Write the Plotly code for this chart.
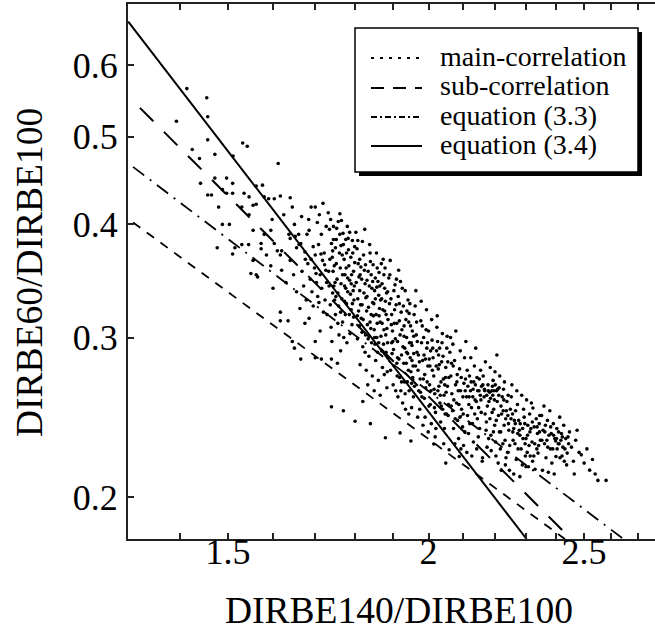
import plotly.graph_objects as go

# ---------------- data ----------------
scatter_points = [
    # x < 1.66
    (1.414,0.565),(1.455,0.552),(1.393,0.520),(1.457,0.526),(1.457,0.496),(1.425,0.484),(1.440,0.473),(1.472,0.478),
    (1.511,0.476),(1.532,0.492),(1.542,0.488),(1.612,0.467),(1.442,0.444),(1.472,0.450),(1.497,0.450),(1.510,0.444),
    (1.457,0.431),(1.465,0.431),(1.488,0.437),(1.497,0.433),(1.480,0.418),(1.488,0.400),(1.503,0.400),(1.510,0.433),
    (1.535,0.433),(1.546,0.429),(1.555,0.420),(1.562,0.441),(1.576,0.442),(1.580,0.429),(1.590,0.427),(1.603,0.427),
    (1.617,0.430),(1.640,0.428),(1.645,0.418),(1.530,0.418),(1.546,0.410),(1.562,0.421),(1.555,0.394),(1.477,0.377),
    (1.530,0.380),(1.545,0.380),(1.515,0.377),(1.510,0.371),(1.573,0.381),(1.573,0.376),(1.580,0.390),(1.595,0.394),
    (1.603,0.381),(1.610,0.374),(1.620,0.374),(1.617,0.370),(1.637,0.390),(1.640,0.386),(1.655,0.377),(1.555,0.365),
    (1.550,0.353),(1.565,0.350),(1.595,0.360),(1.585,0.370),(1.562,0.352),(1.617,0.313),(1.650,0.292),(1.645,0.297),
    (1.617,0.320),(1.635,0.313),(1.630,0.345),(1.600,0.340),(1.620,0.356),(1.648,0.352),(1.655,0.337),(1.640,0.365),
    (1.598,0.405),(1.625,0.410),(1.650,0.400),(1.652,0.388),
    # 1.66 - 1.73
    (1.660,0.390),(1.661,0.380),(1.665,0.381),(1.675,0.373),(1.676,0.366),(1.685,0.394),(1.690,0.418),(1.700,0.418),
    (1.710,0.410),(1.715,0.390),(1.680,0.390),(1.700,0.370),(1.690,0.366),(1.665,0.284),(1.715,0.284),(1.675,0.311),
    (1.700,0.297),(1.720,0.320),(1.700,0.285),(1.668,0.355),(1.672,0.342),(1.678,0.330),(1.682,0.362),(1.688,0.348),
    (1.692,0.337),(1.695,0.325),(1.698,0.358),(1.703,0.345),(1.706,0.333),(1.708,0.380),(1.712,0.352),(1.716,0.340),
    (1.718,0.365),(1.722,0.372),(1.724,0.330),(1.726,0.356),(1.728,0.345),(1.663,0.323),(1.685,0.315),(1.712,0.305),
    (1.727,0.398),(1.705,0.402),(1.684,0.405),(1.667,0.408),(1.719,0.422),(1.695,0.378),
    (1.702,0.353),(1.709,0.328),(1.714,0.371),(1.723,0.361),(1.729,0.318),
    # 1.73 - 1.80
    (1.732,0.412),(1.738,0.405),(1.745,0.385),(1.740,0.381),(1.750,0.377),(1.760,0.372),(1.761,0.390),(1.735,0.395),
    (1.742,0.368),(1.744,0.355),(1.746,0.342),(1.748,0.330),(1.750,0.318),(1.752,0.362),(1.754,0.348),(1.756,0.336),
    (1.758,0.325),(1.762,0.358),(1.764,0.344),(1.766,0.331),(1.768,0.312),(1.770,0.380),(1.772,0.366),(1.774,0.352),
    (1.776,0.340),(1.778,0.327),(1.780,0.398),(1.782,0.386),(1.784,0.360),(1.786,0.347),(1.788,0.335),(1.790,0.322),
    (1.792,0.310),(1.794,0.372),(1.796,0.355),(1.798,0.342),(1.734,0.342),(1.737,0.326),(1.739,0.308),(1.741,0.297),
    (1.743,0.374),(1.747,0.360),(1.753,0.396),(1.757,0.403),(1.761,0.411),(1.765,0.404),(1.769,0.391),(1.773,0.342),
    (1.777,0.358),(1.781,0.349),(1.785,0.318),(1.789,0.368),(1.793,0.384),(1.797,0.330),(1.771,0.300),(1.779,0.296),
    (1.759,0.302),(1.787,0.303),(1.740,0.2515),(1.770,0.249),(1.740,0.284),(1.763,0.290),(1.755,0.281),(1.733,0.355),
    (1.749,0.345),(1.767,0.370),(1.775,0.318),(1.783,0.375),(1.791,0.352),(1.795,0.338),(1.799,0.363),(1.751,0.333),
    (1.763,0.320),(1.745,0.398),(1.776,0.385),
    (1.736,0.366),(1.743,0.336),(1.752,0.385),(1.756,0.311),(1.764,0.379),(1.768,0.352),(1.773,0.329),(1.778,0.372),
    (1.786,0.392),(1.790,0.344),(1.796,0.316),(1.799,0.378),(1.781,0.337),(1.793,0.327),
    # 1.80 - 1.89
    (1.802,0.392),(1.805,0.376),(1.808,0.362),(1.810,0.350),(1.812,0.338),(1.814,0.326),(1.816,0.315),(1.818,0.304),
    (1.820,0.293),(1.822,0.370),(1.824,0.356),(1.826,0.344),(1.828,0.332),(1.830,0.321),(1.832,0.310),(1.834,0.299),
    (1.836,0.286),(1.838,0.380),(1.840,0.364),(1.842,0.352),(1.844,0.340),(1.846,0.328),(1.848,0.317),(1.850,0.306),
    (1.852,0.295),(1.854,0.283),(1.856,0.372),(1.858,0.358),(1.860,0.346),(1.862,0.334),(1.864,0.323),(1.866,0.312),
    (1.868,0.301),(1.870,0.290),(1.872,0.278),(1.874,0.366),(1.876,0.352),(1.878,0.340),(1.880,0.329),(1.882,0.318),
    (1.884,0.307),(1.886,0.296),(1.888,0.285),(1.803,0.345),(1.807,0.331),(1.811,0.309),(1.815,0.359),(1.819,0.383),
    (1.823,0.336),(1.827,0.302),(1.831,0.347),(1.835,0.324),(1.839,0.312),(1.843,0.296),(1.847,0.361),(1.851,0.338),
    (1.855,0.318),(1.859,0.289),(1.863,0.354),(1.867,0.330),(1.871,0.311),(1.875,0.295),(1.879,0.358),(1.883,0.336),
    (1.887,0.314),(1.813,0.280),(1.829,0.276),(1.845,0.272),(1.861,0.269),(1.877,0.273),(1.800,0.2425),(1.840,0.241),
    (1.820,0.255),(1.850,0.262),(1.833,0.266),(1.866,0.259),(1.884,0.264),(1.806,0.299),(1.817,0.348),(1.825,0.395),
    (1.837,0.342),(1.849,0.327),(1.857,0.300),(1.865,0.342),(1.873,0.322),(1.881,0.302),(1.885,0.275),(1.809,0.321),
    (1.821,0.314),(1.841,0.307),(1.853,0.349),(1.869,0.362),
    (1.807,0.384),(1.813,0.352),(1.818,0.326),(1.827,0.361),(1.831,0.333),(1.839,0.372),(1.846,0.346),(1.851,0.300),
    (1.857,0.341),(1.863,0.317),(1.870,0.331),(1.878,0.321),(1.886,0.337),(1.806,0.317),(1.812,0.366),(1.826,0.289),
    (1.834,0.355),(1.842,0.318),(1.853,0.331),(1.858,0.311),(1.862,0.296),(1.871,0.344),(1.876,0.306),(1.882,0.289),
    (1.889,0.349),
    # 1.89 - 1.96
    (1.892,0.352),(1.895,0.331),(1.897,0.318),(1.899,0.305),(1.902,0.291),(1.904,0.279),(1.906,0.343),(1.909,0.326),
    (1.911,0.311),(1.913,0.297),(1.915,0.333),(1.917,0.284),(1.919,0.271),(1.921,0.346),(1.923,0.320),(1.925,0.306),
    (1.928,0.293),(1.930,0.281),(1.932,0.268),(1.934,0.338),(1.936,0.314),(1.938,0.300),(1.941,0.288),(1.943,0.276),
    (1.945,0.262),(1.947,0.327),(1.949,0.309),(1.951,0.296),(1.953,0.283),(1.955,0.271),(1.957,0.258),(1.959,0.318),
    (1.893,0.365),(1.898,0.288),(1.903,0.338),(1.907,0.299),(1.912,0.272),(1.916,0.356),(1.920,0.302),(1.924,0.287),
    (1.929,0.325),(1.933,0.292),(1.937,0.281),(1.942,0.330),(1.946,0.296),(1.950,0.275),(1.954,0.305),(1.958,0.288),
    (1.894,0.276),(1.901,0.266),(1.908,0.262),(1.914,0.258),(1.922,0.262),(1.927,0.254),(1.935,0.250),(1.944,0.247),
    (1.952,0.251),(1.920,0.2354),(1.950,0.2306),(1.880,0.2325),(1.896,0.310),(1.905,0.322),(1.910,0.348),(1.918,0.313),
    (1.926,0.340),(1.931,0.309),(1.939,0.321),(1.948,0.285),(1.956,0.279),(1.900,0.297),(1.913,0.285),(1.940,0.268),
    (1.934,0.260),(1.960,0.265),(1.891,0.327),(1.944,0.312),(1.953,0.294),
    (1.897,0.296),(1.904,0.311),(1.911,0.281),(1.918,0.327),(1.924,0.268),(1.931,0.301),(1.938,0.289),(1.945,0.319),
    (1.952,0.267),(1.958,0.301),
    # 1.96 - 2.06
    (1.962,0.325),(1.965,0.302),(1.967,0.289),(1.970,0.276),(1.972,0.262),(1.975,0.250),(1.978,0.313),(1.980,0.296),
    (1.983,0.283),(1.985,0.270),(1.988,0.257),(1.990,0.245),(1.993,0.306),(1.995,0.292),(1.998,0.279),(2.000,0.305),
    (2.003,0.266),(2.005,0.253),(2.008,0.241),(2.010,0.298),(2.013,0.285),(2.015,0.272),(2.018,0.260),(2.020,0.248),
    (2.023,0.290),(2.025,0.317),(2.028,0.277),(2.030,0.265),(2.033,0.254),(2.035,0.242),(2.038,0.282),(2.040,0.303),
    (2.043,0.270),(2.045,0.259),(2.048,0.247),(2.050,0.278),(2.053,0.292),(2.055,0.265),(2.058,0.253),(2.015,0.2288),
    (2.050,0.218),(2.060,0.2255),(1.966,0.312),(1.971,0.287),(1.976,0.270),(1.981,0.258),(1.986,0.300),(1.991,0.284),
    (1.996,0.268),(2.001,0.252),(2.006,0.290),(2.011,0.276),(2.016,0.263),(2.021,0.238),(2.026,0.297),(2.031,0.280),
    (2.036,0.268),(2.041,0.250),(2.046,0.238),(2.051,0.261),(2.056,0.282),(1.964,0.338),(1.979,0.329),(1.994,0.322),
    (2.009,0.314),(2.024,0.308),(2.039,0.296),(2.054,0.301),(1.969,0.245),(1.984,0.240),(1.999,0.236),(2.019,0.233),
    (2.044,0.229),(1.974,0.282),(1.989,0.273),(2.004,0.279),(2.029,0.287),(2.034,0.259),(2.049,0.271),(2.057,0.246),
    (1.963,0.279),(1.968,0.297),(1.977,0.261),(1.982,0.309),(1.987,0.287),(1.992,0.264),(1.997,0.296),(2.002,0.284),
    (2.007,0.262),(2.012,0.292),(2.017,0.251),(2.022,0.279),(2.027,0.262),(2.032,0.292),(2.037,0.252),(2.042,0.286),
    (2.047,0.266),(2.052,0.247),(2.059,0.271),
    # 2.06 - 2.16
    (2.062,0.289),(2.065,0.272),(2.068,0.260),(2.070,0.249),(2.073,0.238),(2.076,0.283),(2.079,0.266),(2.082,0.254),
    (2.085,0.243),(2.088,0.232),(2.091,0.277),(2.094,0.262),(2.097,0.250),(2.100,0.239),(2.103,0.228),(2.106,0.285),
    (2.109,0.270),(2.112,0.258),(2.115,0.246),(2.118,0.235),(2.121,0.272),(2.124,0.262),(2.127,0.251),(2.130,0.241),
    (2.133,0.230),(2.136,0.279),(2.139,0.266),(2.140,0.292),(2.142,0.255),(2.145,0.244),(2.148,0.233),(2.151,0.270),
    (2.154,0.259),(2.157,0.248),(2.160,0.219),(2.090,0.2217),(2.064,0.300),(2.071,0.295),(2.080,0.305),(2.093,0.290),
    (2.110,0.297),(2.125,0.285),(2.067,0.281),(2.074,0.256),(2.083,0.268),(2.092,0.245),(2.101,0.258),(2.107,0.236),
    (2.116,0.265),(2.122,0.241),(2.131,0.258),(2.137,0.247),(2.146,0.262),(2.152,0.238),(2.158,0.265),(2.077,0.229),
    (2.095,0.226),(2.113,0.224),(2.128,0.222),(2.143,0.226),(2.087,0.262),(2.104,0.267),(2.119,0.253),(2.134,0.268),
    (2.149,0.251),(2.155,0.276),
    (2.066,0.252),(2.072,0.279),(2.078,0.244),(2.084,0.273),(2.089,0.253),(2.096,0.271),(2.102,0.247),(2.108,0.262),
    (2.114,0.276),(2.120,0.258),(2.126,0.268),(2.132,0.263),(2.138,0.256),(2.144,0.271),(2.150,0.262),(2.156,0.256),
    # 2.16 - 2.25
    (2.163,0.272),(2.166,0.258),(2.169,0.247),(2.172,0.237),(2.175,0.227),(2.178,0.266),(2.181,0.255),(2.184,0.244),
    (2.187,0.234),(2.190,0.262),(2.193,0.259),(2.194,0.269),(2.196,0.250),(2.199,0.240),(2.202,0.230),(2.205,0.262),
    (2.208,0.263),(2.211,0.246),(2.214,0.236),(2.217,0.226),(2.220,0.214),(2.223,0.258),(2.226,0.249),(2.229,0.240),
    (2.232,0.231),(2.235,0.221),(2.238,0.255),(2.241,0.246),(2.244,0.237),(2.247,0.228),(2.161,0.221),(2.170,0.282),
    (2.185,0.278),(2.200,0.275),(2.215,0.272),(2.230,0.268),(2.168,0.262),(2.176,0.252),(2.183,0.261),(2.191,0.248),
    (2.198,0.256),(2.204,0.243),(2.212,0.259),(2.219,0.252),(2.227,0.263),(2.234,0.244),(2.242,0.259),(2.249,0.250),
    (2.173,0.242),(2.180,0.232),(2.188,0.225),(2.195,0.236),(2.203,0.222),(2.210,0.218),(2.218,0.236),(2.225,0.229),
    (2.233,0.217),(2.240,0.224),(2.246,0.214),(2.206,0.287),
    (2.162,0.266),(2.167,0.263),(2.174,0.259),(2.179,0.262),(2.186,0.257),(2.192,0.265),(2.197,0.262),(2.201,0.266),
    (2.207,0.255),(2.213,0.264),(2.221,0.247),(2.228,0.256),(2.236,0.249),(2.243,0.241),
    # 2.25 - 2.35
    (2.252,0.258),(2.256,0.247),(2.260,0.238),(2.264,0.229),(2.268,0.220),(2.272,0.253),(2.276,0.243),(2.280,0.234),
    (2.284,0.226),(2.288,0.217),(2.292,0.250),(2.296,0.241),(2.300,0.232),(2.304,0.224),(2.308,0.216),(2.312,0.247),
    (2.316,0.238),(2.320,0.230),(2.323,0.2508),(2.326,0.222),(2.330,0.2146),(2.334,0.244),(2.338,0.235),(2.340,0.2236),
    (2.344,0.241),(2.348,0.231),(2.260,0.212),(2.280,0.2106),(2.300,0.216),(2.254,0.266),(2.270,0.262),(2.286,0.259),
    (2.302,0.256),(2.318,0.254),(2.262,0.243),(2.278,0.237),(2.294,0.245),(2.310,0.228),(2.327,0.239),(2.342,0.228),
    (2.258,0.231),(2.274,0.226),(2.290,0.232),(2.306,0.240),(2.322,0.219),(2.336,0.226),(2.346,0.246),(2.266,0.249),
    (2.298,0.222),(2.314,0.222),
    (2.251,0.244),(2.257,0.236),(2.265,0.241),(2.273,0.235),(2.281,0.241),(2.289,0.238),(2.297,0.229),(2.305,0.234),
    (2.313,0.236),(2.321,0.242),(2.329,0.229),(2.337,0.239),(2.345,0.236),
    # 2.35 - 2.45
    (2.352,0.246),(2.357,0.237),(2.362,0.229),(2.367,0.221),(2.372,0.243),(2.377,0.234),(2.382,0.226),(2.387,0.218),
    (2.392,0.241),(2.397,0.232),(2.400,0.2306),(2.401,0.2217),(2.404,0.238),(2.409,0.229),(2.414,0.245),(2.415,0.221),
    (2.420,0.235),(2.425,0.227),(2.430,0.219),(2.435,0.232),(2.440,0.2236),(2.445,0.229),(2.355,0.214),(2.375,0.213),
    (2.395,0.212),(2.360,0.252),(2.380,0.249),(2.410,0.236),(2.418,0.231),(2.428,0.240),(2.438,0.217),(2.365,0.240),
    (2.385,0.235),(2.405,0.226),(2.422,0.222),(2.448,0.236),(2.370,0.231),(2.390,0.226),
    (2.353,0.231),(2.363,0.236),(2.373,0.227),(2.383,0.239),(2.393,0.234),(2.403,0.232),(2.412,0.229),(2.423,0.233),
    (2.432,0.226),(2.443,0.233),
    # > 2.45
    (2.455,0.227),(2.462,0.219),(2.470,0.231),(2.475,0.237),(2.482,0.224),(2.490,0.2226),(2.500,0.218),(2.510,0.226),
    (2.520,0.2141),(2.530,0.220),(2.550,0.2086),(2.580,0.2086),(2.540,0.212),(2.465,0.212),
]
scatter_x = [p[0] for p in scatter_points]
scatter_y = [p[1] for p in scatter_points]

# fitted / model lines (end points)
main_corr_x = [1.309, 2.432]
main_corr_y = [0.402, 0.1797]
sub_corr_x = [1.322, 2.454]
sub_corr_y = [0.538, 0.1797]
eq33_x = [1.309, 2.645]
eq33_y = [0.463, 0.1797]
eq34_x = [1.300, 2.302]
eq34_y = [0.670, 0.1797]

x_tick_vals = [1.4, 1.5, 1.6, 1.7, 1.8, 1.9, 2.0, 2.1, 2.2, 2.3, 2.4, 2.5, 2.6, 2.7]
x_tick_text = ["", "1.5", "", "", "", "", "2", "", "", "", "", "2.5", "", ""]
y_tick_vals = [0.2, 0.3, 0.4, 0.5, 0.6]
y_tick_text = ["0.2", "0.3", "0.4", "0.5", "0.6"]

x_title = "DIRBE140/DIRBE100"
y_title = "DIRBE60/DIRBE100"
legend_labels = ["main-correlation", "sub-correlation", "equation (3.3)", "equation (3.4)"]
legend_dashes = ["3px,6px", "13px,9px", "6px,3px,2px,3px", "solid"]

FONT = "Liberation Serif"

# ---------------- figure ----------------
fig = go.Figure()
fig.add_trace(go.Scatter(x=scatter_x, y=scatter_y, mode="markers",
                         marker=dict(color="black", size=3.6, line=dict(width=0)),
                         showlegend=False, name="data"))
fig.add_trace(go.Scatter(x=main_corr_x, y=main_corr_y, mode="lines", name=legend_labels[0],
                         line=dict(color="black", width=1.8, dash="9px,8px"), showlegend=False))
fig.add_trace(go.Scatter(x=sub_corr_x, y=sub_corr_y, mode="lines", name=legend_labels[1],
                         line=dict(color="black", width=2, dash="19px,15px"), showlegend=False))
fig.add_trace(go.Scatter(x=eq33_x, y=eq33_y, mode="lines", name=legend_labels[2],
                         line=dict(color="black", width=1.8, dash="14px,7px,2px,7px"), showlegend=False))
fig.add_trace(go.Scatter(x=eq34_x, y=eq34_y, mode="lines", name=legend_labels[3],
                         line=dict(color="black", width=2), showlegend=False))

# ---- hand-drawn legend box and axis titles (paper coordinates) ----
W, H = 655, 633
L, R, T, B = 128, 0, 4, 94
pw, ph = W - L - R, H - T - B
def px(xpix):
    return (xpix - L) / pw
def py(ypix):
    return (H - B - ypix) / ph

shapes = []
shapes.append(dict(type="rect", xref="paper", yref="paper", x0=px(359), x1=px(642), y0=py(176), y1=py(32),
                   fillcolor="black", line=dict(width=0), layer="above"))
shapes.append(dict(type="rect", xref="paper", yref="paper", x0=px(355), x1=px(638), y0=py(172), y1=py(28),
                   fillcolor="white", line=dict(color="black", width=1.5), layer="above"))
row_y = [56, 86, 115, 144]
annotations = []
for lab, dsh, ry in zip(legend_labels, legend_dashes, row_y):
    shapes.append(dict(type="line", xref="paper", yref="paper", x0=px(371), x1=px(422), y0=py(ry + 2), y1=py(ry + 2),
                       line=dict(color="black", width=2, dash=dsh), layer="above"))
    annotations.append(dict(text=lab, xref="paper", yref="paper", x=px(438), y=py(ry), xanchor="left",
                            yanchor="middle", showarrow=False, font=dict(family=FONT, size=28, color="black")))
annotations.append(dict(text=x_title, xref="paper", yref="paper", x=px(399), y=py(610), xanchor="center",
                        yanchor="middle", showarrow=False, font=dict(family=FONT, size=37.5, color="black")))
annotations.append(dict(text=y_title, xref="paper", yref="paper", x=px(29), y=py(273), xanchor="center",
                        yanchor="middle", textangle=-90, showarrow=False,
                        font=dict(family=FONT, size=37.5, color="black")))

fig.update_layout(
    width=W, height=H,
    margin=dict(l=L, r=R, t=T, b=B),
    paper_bgcolor="white", plot_bgcolor="white",
    font=dict(family=FONT, color="black"),
    shapes=shapes, annotations=annotations,
    showlegend=False,
)
fig.update_xaxes(type="log", range=[0.1138, 0.4421], tickmode="array",
                 tickvals=x_tick_vals, ticktext=x_tick_text,
                 ticks="inside", ticklen=6, tickwidth=1.5, tickcolor="#222",
                 showline=True, linecolor="#222", linewidth=2, mirror="ticks",
                 showgrid=False, zeroline=False, ticklabelstandoff=-20,
                 tickfont=dict(family=FONT, size=36, color="black"))
fig.update_yaxes(type="log", range=[-0.7454, -0.1545], tickmode="array",
                 tickvals=y_tick_vals, ticktext=y_tick_text,
                 ticks="inside", ticklen=6, tickwidth=1.5, tickcolor="#222",
                 showline=True, linecolor="#222", linewidth=2, mirror=False,
                 showgrid=False, zeroline=False, ticklabelstandoff=1,
                 tickfont=dict(family=FONT, size=36, color="black"))

fig.write_html("out.html")
